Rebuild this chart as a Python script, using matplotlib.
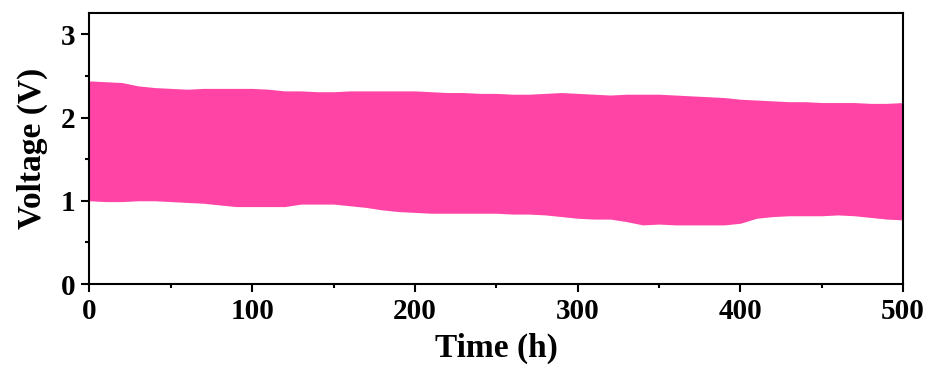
import numpy as np
import matplotlib.pyplot as plt

# envelope of the galvanostatic cycling band, every 10 h
time_h = np.arange(0, 501, 10)
v_upper = [2.44, 2.43, 2.42, 2.38, 2.36, 2.35, 2.34, 2.35, 2.35, 2.35,
           2.35, 2.34, 2.32, 2.32, 2.31, 2.31, 2.32, 2.32, 2.32, 2.32,
           2.32, 2.31, 2.30, 2.30, 2.29, 2.29, 2.28, 2.28, 2.29, 2.30,
           2.29, 2.28, 2.27, 2.28, 2.28, 2.28, 2.27, 2.26, 2.25, 2.24,
           2.22, 2.21, 2.20, 2.19, 2.19, 2.18, 2.18, 2.18, 2.17, 2.17,
           2.18]
v_lower = [1.00, 0.99, 0.99, 1.00, 1.00, 0.99, 0.98, 0.97, 0.95, 0.93,
           0.93, 0.93, 0.93, 0.96, 0.96, 0.96, 0.94, 0.92, 0.89, 0.87,
           0.86, 0.85, 0.85, 0.85, 0.85, 0.85, 0.84, 0.84, 0.83, 0.81,
           0.79, 0.78, 0.78, 0.75, 0.71, 0.72, 0.71, 0.71, 0.71, 0.71,
           0.73, 0.79, 0.81, 0.82, 0.82, 0.82, 0.83, 0.82, 0.80, 0.78,
           0.77]

plt.rcParams["font.family"] = ["Liberation Serif", "DejaVu Serif"]
plt.rcParams["font.weight"] = "bold"

fig = plt.figure(figsize=(9.32, 3.74), dpi=100)
ax = fig.add_axes([0.096, 0.2406, 0.873, 0.7234])

ax.fill_between(time_h, v_lower, v_upper, color="#FF44A6", linewidth=0)

ax.set_xlim(0, 500)
ax.set_ylim(0, 3.25)
ax.set_xticks([0, 100, 200, 300, 400, 500])
ax.set_xticks([50, 150, 250, 350, 450], minor=True)
ax.set_yticks([0, 1, 2, 3])
ax.set_yticks([0.5, 1.5, 2.5], minor=True)

for s in ax.spines.values():
    s.set_linewidth(1.5)
ax.tick_params(which="major", direction="out", length=6, width=1.5,
               labelsize=21, pad=4)
ax.tick_params(which="minor", direction="out", length=3, width=1.5)

ax.set_xlabel("Time (h)", fontsize=24, fontweight="bold", labelpad=6)
ax.set_ylabel("Voltage (V)", fontsize=24, fontweight="bold", labelpad=9)

fig.savefig("out.png", dpi=100)
